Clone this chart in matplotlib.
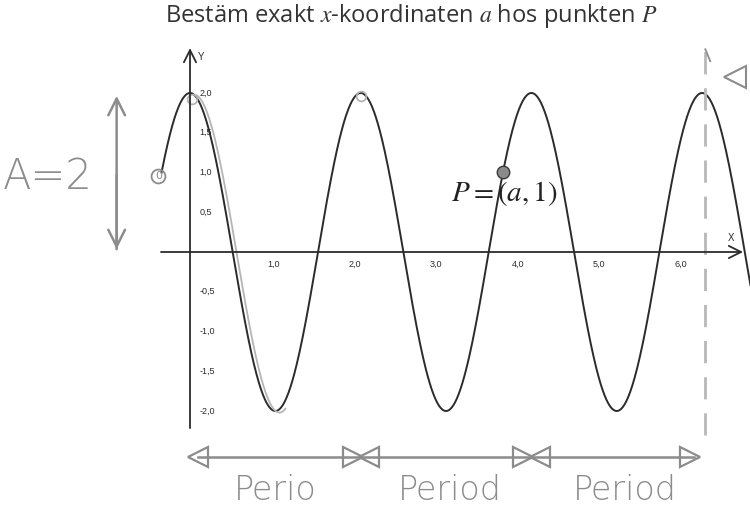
import matplotlib as mpl
mpl.use('Agg')
import matplotlib.pyplot as plt
import numpy as np

# y = A*cos(B*x)
A = 2.0
B = 3.0
x_start = -np.pi / 9
x_end = 6.95

# point P on the curve
p_x = 11 * np.pi / 9
p_y = 1.0

x_ticks = [1.0, 2.0, 3.0, 4.0, 5.0, 6.0]
y_ticks = [2.0, 1.5, 1.0, 0.5, -0.5, -1.0, -1.5, -2.0]
period_labels = ['Perio', 'Period', 'Period']

T = 2 * np.pi / B
ink = '#2b2b2b'
pencil = '#8c8c8c'

def fmt(v):
    return ('%.1f' % v).replace('.', ',')

fig = plt.figure(figsize=(7.5, 5.14), dpi=100)
ax = fig.add_axes([0, 0, 1, 1])
ax.axis('off')
ax.set_xlim(-190 / 81.5, 560 / 81.5)
ax.set_ylim(-262 / 79.5, 252 / 79.5)

plt.rcParams['mathtext.fontset'] = 'stix'

# axes with open arrow heads
ax.annotate('', xy=(6.82, 0), xytext=(-0.39, 0),
            arrowprops=dict(arrowstyle='->', lw=1.3, color=ink, mutation_scale=22))
ax.annotate('', xy=(0, 2.6), xytext=(0, -2.25),
            arrowprops=dict(arrowstyle='->', lw=1.3, color=ink, mutation_scale=22))
ax.text(6.6, 0.14, 'X', fontsize=7, color=ink, family='Liberation Sans')
ax.text(0.09, 2.42, 'Y', fontsize=7, color=ink, family='Liberation Sans')

for v in x_ticks:
    ax.text(v + 0.02, -0.1, fmt(v), fontsize=6.5, color=ink,
            ha='center', va='top', family='Liberation Sans')
for v in y_ticks:
    ax.text(0.12, v, fmt(v), fontsize=6.5, color=ink,
            ha='left', va='center', family='Liberation Sans')

# the graph
xs = np.linspace(x_start, x_end, 1200)
ax.plot(xs, A * np.cos(B * xs), color=ink, lw=1.4)

# pencil trace over the first half wave
xt = np.linspace(0.03, 1.12, 200)
ax.plot(xt + 0.05, A * np.cos(B * xt) - 0.02, color='#b5b5b5', lw=1.3)
ax.plot([0.02], [1.93], marker='o', ms=7, mfc='none', mec='#b0b0b0', mew=1.2)
ax.plot([T], [1.96], marker='o', ms=7, mfc='none', mec='#b0b0b0', mew=1.2)

# point P
ax.plot([p_x], [p_y], marker='o', ms=9, color='#8a8a8a', mec='#3a3a3a', mew=1.0, zorder=5)
ax.text(p_x - 0.64, p_y - 0.27, r'$P=(a,1)$', fontsize=21, color='#222222',
        ha='left', va='center')

# title
fig.text(0.548, 0.997, r'Bestäm exakt $x$-koordinaten $a$ hos punkten $P$',
         fontsize=17, color='#333333', ha='center', va='top', family='Open Sans')

# pencil notes: amplitude
ax.annotate('', xy=(-0.9, A), xytext=(-0.9, 0.0),
            arrowprops=dict(arrowstyle='->', lw=1.8, color=pencil, mutation_scale=30))
ax.annotate('', xy=(-0.9, 0.0), xytext=(-0.9, 1.0),
            arrowprops=dict(arrowstyle='->', lw=1.8, color=pencil, mutation_scale=30))
ax.text(-2.3, 0.95, 'A=2', fontsize=30, color=pencil, ha='left', va='center',
        family='DejaVu Sans', weight='light')
ax.plot([x_start - 0.04], [A * np.cos(B * x_start) - 0.05], marker='o', ms=10,
        mfc='none', mec=pencil, mew=1.3)
ax.text(x_start - 0.04, A * np.cos(B * x_start) - 0.05, '0', fontsize=8,
        color=pencil, ha='center', va='center')

# dashed line at third period
ax.plot([3 * T + 0.04, 3 * T + 0.04], [-2.3, 2.55], color='#b8b8b8', lw=2.0,
        ls=(0, (8, 5)))
ax.plot([3 * T + 0.04, 3 * T + 0.1], [2.55, 2.4], color=pencil, lw=1.3)
ax.plot([3 * T + 0.4], [2.2], marker='<', ms=16, mfc='none', mec=pencil, mew=1.5)

# period arrows under the graph
yb = -2.58
bounds = [k * T for k in range(4)]
ax.plot([bounds[0] + 0.1, bounds[-1] - 0.1], [yb, yb], color=pencil, lw=1.8)
ax.plot([bounds[0] + 0.1], [yb], marker='<', ms=14, mfc='none', mec=pencil, mew=1.6)
ax.plot([bounds[-1] - 0.15], [yb], marker='>', ms=14, mfc='none', mec=pencil, mew=1.6)
for b in bounds[1:3]:
    ax.plot([b - 0.1], [yb], marker='>', ms=14, mfc='none', mec=pencil, mew=1.6)
    ax.plot([b + 0.1], [yb], marker='<', ms=14, mfc='none', mec=pencil, mew=1.6)
for k, lab in enumerate(period_labels):
    ax.text(bounds[k] + T / 2 + 0.05 * k, -3.0, lab, fontsize=24, color=pencil,
            ha='center', va='center', family='DejaVu Sans', weight='light')

fig.savefig('out.png', dpi=100)
